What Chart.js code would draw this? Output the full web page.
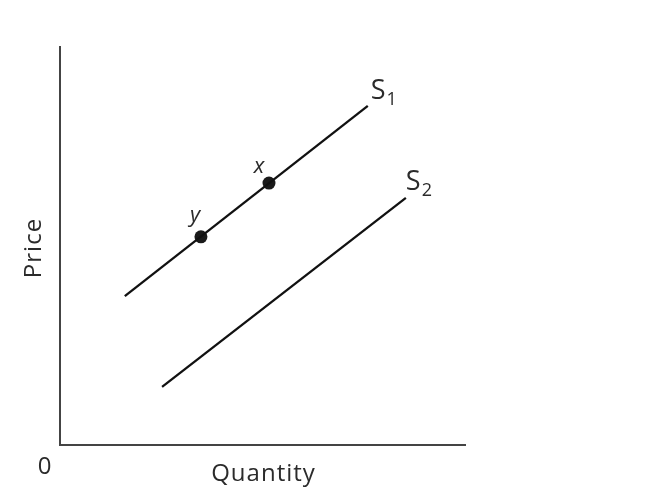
<!DOCTYPE html>
<html>
<head>
<meta charset="utf-8">
<script src="https://cdn.jsdelivr.net/npm/chart.js"></script>
<style>
  html, body { margin: 0; padding: 0; background: #fff; }
  #wrap { width: 653px; height: 503px; }
</style>
</head>
<body>
<div id="wrap"><canvas id="supplyChart" width="653" height="503"></canvas></div>
<script>
// Data (arbitrary 0-100 units on both axes)
const s1Line = [{ x: 16, y: 37.4 }, { x: 76, y: 85.2 }];
const s2Line = [{ x: 25.2, y: 14.6 }, { x: 85.4, y: 62.1 }];
const pointNames = ['x', 'y'];
const pointsOnS1 = [{ x: 51.6, y: 65.8 }, { x: 34.8, y: 52.3 }];
const axisNames = { x: 'Quantity', y: 'Price', origin: '0' };

const textColor = '#2b2b2b';
const fontFamily = '"Open Sans", "Noto Sans", sans-serif';

// Draw curve names, point names, axis titles
const labelPlugin = {
    id: 'labelPlugin',
    afterDraw(chart) {
        const ctx = chart.ctx;
        const xs = chart.scales.x;
        const ys = chart.scales.y;
        const area = chart.chartArea;
        ctx.save();
        ctx.fillStyle = textColor;
        ctx.textBaseline = 'middle';
        ctx.textAlign = 'center';

        // axis titles
        ctx.font = '24px ' + fontFamily;
        ctx.letterSpacing = '1px';
        ctx.fillText(axisNames.x, (area.left + area.right) / 2 + 1, area.bottom + 29);
        ctx.fillText(axisNames.origin, area.left - 15, area.bottom + 22);
        ctx.save();
        ctx.translate(area.left - 26, (area.top + area.bottom) / 2 + 2);
        ctx.rotate(-Math.PI / 2);
        ctx.fillText(axisNames.y, 0, 0);
        ctx.restore();
        ctx.letterSpacing = '0px';

        // curve names with subscripts
        const subLabel = (name, sub, px, py) => {
            ctx.textAlign = 'left';
            ctx.font = '27px ' + fontFamily;
            ctx.fillText(name, px, py);
            const w = ctx.measureText(name).width;
            ctx.font = '18px ' + fontFamily;
            ctx.fillText(sub, px + w + 1, py + 9);
        };
        const e1 = s1Line[1], e2 = s2Line[1];
        subLabel('S', '1', xs.getPixelForValue(e1.x) + 3, ys.getPixelForValue(e1.y) - 15);
        subLabel('S', '2', xs.getPixelForValue(e2.x) + 0, ys.getPixelForValue(e2.y) - 16);

        // point names
        ctx.textAlign = 'center';
        ctx.textBaseline = 'alphabetic';
        ctx.font = 'italic 22px ' + fontFamily;
        const offs = [{ dx: -10, dy: -10 }, { dx: -6, dy: -15 }];
        pointsOnS1.forEach((p, i) => {
            ctx.fillText(pointNames[i], xs.getPixelForValue(p.x) + offs[i].dx, ys.getPixelForValue(p.y) + offs[i].dy);
        });
        ctx.restore();
    }
};

const ctx = document.getElementById('supplyChart').getContext('2d');
new Chart(ctx, {
    type: 'scatter',
    data: {
        datasets: [
            { label: 'S1', data: s1Line, showLine: true, borderColor: '#111', borderWidth: 2.3, pointRadius: 0 },
            { label: 'S2', data: s2Line, showLine: true, borderColor: '#111', borderWidth: 2.3, pointRadius: 0 },
            { label: 'points', data: pointsOnS1, pointRadius: 6.5, backgroundColor: '#1a1a1a', borderColor: '#1a1a1a', borderWidth: 0 }
        ]
    },
    options: {
        responsive: false,
        animation: false,
        layout: { padding: { left: 52, top: 47, right: 188, bottom: 50 } },
        plugins: { legend: { display: false }, tooltip: { enabled: false } },
        scales: {
            x: {
                type: 'linear', min: 0, max: 100,
                ticks: { display: false },
                grid: { display: false },
                border: { display: true, color: '#444', width: 2 }
            },
            y: {
                type: 'linear', min: 0, max: 100,
                ticks: { display: false },
                grid: { display: false },
                border: { display: true, color: '#444', width: 2 }
            }
        }
    },
    plugins: [labelPlugin]
});
</script>
</body>
</html>
